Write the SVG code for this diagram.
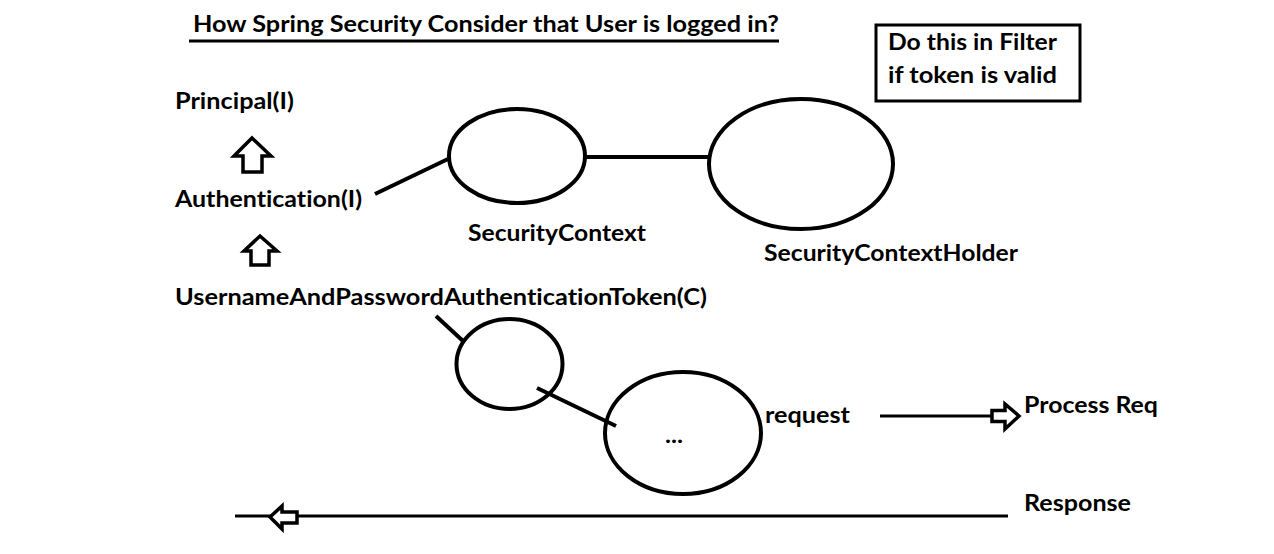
<svg xmlns="http://www.w3.org/2000/svg" width="1274" height="554" viewBox="0 0 1274 554">
<style>
text{font-family:Lato,"Open Sans","Liberation Sans",sans-serif;font-weight:bold;font-size:22px;fill:#000;font-variant-ligatures:none;font-feature-settings:"liga" 0}
.s{fill:none;stroke:#000;stroke-width:4}
.a{fill:#fff;stroke:#000;stroke-width:3.5;stroke-linejoin:miter}
</style>
<rect width="1274" height="554" fill="#fff"/>
<g id="title">
<text x="193" y="32" textLength="586" lengthAdjust="spacingAndGlyphs">How Spring Security Consider that User is logged in?</text>
<line x1="189" y1="41" x2="779" y2="41" stroke="#000" stroke-width="3"/>
</g>
<g id="note">
<rect x="876" y="25" width="204" height="76" fill="none" stroke="#000" stroke-width="3"/>
<text x="888" y="50" textLength="169" lengthAdjust="spacingAndGlyphs">Do this in Filter</text>
<text x="888" y="83" textLength="169" lengthAdjust="spacingAndGlyphs">if token is valid</text>
</g>
<g id="principal"><text x="175" y="109" textLength="119" lengthAdjust="spacingAndGlyphs">Principal(I)</text></g>
<g id="authentication"><text x="175" y="207" textLength="187" lengthAdjust="spacingAndGlyphs">Authentication(I)</text></g>
<g id="token"><text x="175" y="305" textLength="532" lengthAdjust="spacingAndGlyphs">UsernameAndPasswordAuthenticationToken(C)</text></g>
<g id="securityContext">
<ellipse class="s" cx="517" cy="156" rx="68" ry="47"/>
<text x="468" y="241" textLength="178" lengthAdjust="spacingAndGlyphs">SecurityContext</text>
</g>
<g id="securityContextHolder">
<ellipse class="s" cx="801" cy="164" rx="92" ry="65"/>
<text x="764" y="261" textLength="254" lengthAdjust="spacingAndGlyphs">SecurityContextHolder</text>
</g>
<g id="small">
<ellipse class="s" cx="509.5" cy="364" rx="53" ry="45"/>
</g>
<g id="request">
<ellipse class="s" cx="683" cy="433" rx="78" ry="61"/>
<text x="665" y="443" textLength="18" lengthAdjust="spacingAndGlyphs">...</text>
<text x="765" y="423" textLength="85" lengthAdjust="spacingAndGlyphs">request</text>
</g>
<g id="processReq"><text x="1024" y="413" textLength="134" lengthAdjust="spacingAndGlyphs">Process Req</text></g>
<g id="response"><text x="1024" y="511" textLength="107" lengthAdjust="spacingAndGlyphs">Response</text></g>
<g id="connectors">
<path class="a" d="M252,138 L271,156 L262,156 L262,172 L243,172 L243,156 L234,156 Z"/>
<path class="a" d="M260,236 L277,251 L269,251 L269,265 L251,265 L251,251 L244,251 Z"/>
<line class="s" x1="375" y1="194" x2="448" y2="159"/>
<line class="s" x1="586" y1="157" x2="709" y2="157"/>
<line class="s" x1="436" y1="316" x2="463" y2="341"/>
<line class="s" x1="537" y1="388" x2="616" y2="426"/>
<line x1="880" y1="416" x2="992" y2="416" stroke="#000" stroke-width="3"/>
<path class="a" d="M1019,416 L1005,404 L1005,410.5 L992,410.5 L992,421.5 L1005,421.5 L1005,429 Z"/>
<line x1="235" y1="516" x2="1008" y2="516" stroke="#000" stroke-width="3"/>
<path class="a" d="M270,517 L282,506 L282,512 L297,512 L297,523 L282,523 L282,529 Z"/>
</g>
</svg>
